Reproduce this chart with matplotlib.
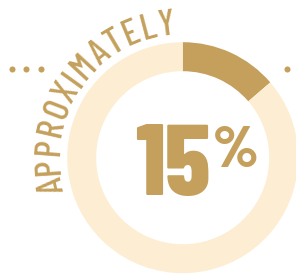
import numpy as np
import matplotlib.pyplot as plt
from matplotlib.font_manager import FontProperties

# data
shares = [13.7, 86.3]          # filled part, rest of ring
big_label = "15"
unit_label = "%"
arc_label = "APPROXIMATELY"

gold = "#C4A05C"
cream = "#FDEED3"

W, H = 296, 274
fig = plt.figure(figsize=(W / 100, H / 100), dpi=100)
ax = fig.add_axes([0, 0, 1, 1])

cx, cy = 182.7, H - 157.7
R, ring_w = 115.5, 29

ax.pie(shares, colors=[gold, cream], startangle=90, counterclock=False,
       radius=R, center=(cx, cy),
       wedgeprops=dict(width=ring_w, linewidth=0))

# big number
bold = dict(family=["Barlow Condensed", "DejaVu Sans"], weight=800, color=gold)
ax.text(210.5, H - 195, big_label, fontsize=73, ha="right", va="baseline", **bold)
ax.text(212.5, H - 167, unit_label, fontsize=43, ha="left", va="baseline", **bold)

# dots
dot_x = [11.7, 26, 40.7, 286.7]
ax.scatter(dot_x, [H - 69.3] * len(dot_x), s=19, color=gold, linewidths=0)

# curved text
fp = FontProperties(family="Barlow Condensed", weight=500, size=26.5)
rend = fig.canvas.get_renderer()
widths = [rend.get_text_width_height_descent(c, fp, ismath=False)[0] for c in arc_label]
centers = np.cumsum(widths) - np.array(widths) / 2
a0, a1 = 192.0, 97.0
angles = a0 + (centers - centers[0]) / (centers[-1] - centers[0]) * (a1 - a0)
r_base = 124
for ch, a in zip(arc_label, angles):
    t = np.deg2rad(a)
    ax.text(cx + r_base * np.cos(t), cy + r_base * np.sin(t), ch,
            fontproperties=fp, color=gold, rotation=a - 90,
            rotation_mode="anchor", ha="center", va="baseline")

ax.set_xlim(0, W)
ax.set_ylim(0, H)
ax.set_aspect("equal")
ax.axis("off")

fig.savefig("out.png", dpi=100)
